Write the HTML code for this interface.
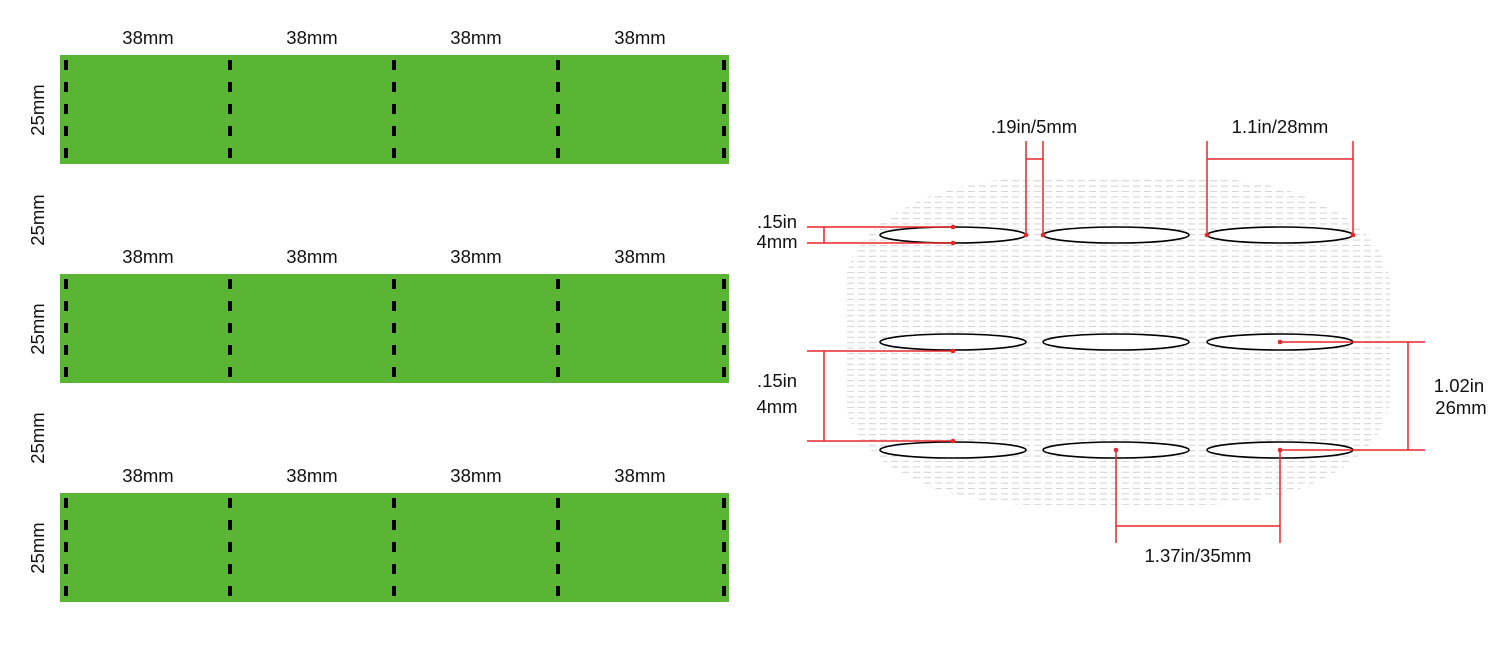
<!DOCTYPE html>
<html><head><meta charset="utf-8"><style>
html,body{margin:0;padding:0;background:#fff;}
svg{display:block;}
text{font-family:"Liberation Sans",sans-serif;font-size:18.5px;fill:#111;}
</style></head><body>
<svg width="1500" height="652" viewBox="0 0 1500 652" xmlns="http://www.w3.org/2000/svg">
<defs>
<pattern id="hatch" x="0" y="0" width="11" height="5.4" patternUnits="userSpaceOnUse">
<rect x="0" y="2" width="7" height="1" fill="#d2d2d2"/>
</pattern>
</defs>
<g>
<rect x="60" y="55" width="669" height="109" fill="#5bb534"/>
<rect x="60" y="274" width="669" height="109" fill="#5bb534"/>
<rect x="60" y="493" width="669" height="109" fill="#5bb534"/>
</g>
<g stroke="#000" stroke-width="4" stroke-dasharray="10 12">
<line x1="66" y1="60" x2="66" y2="160"/><line x1="230" y1="60" x2="230" y2="160"/><line x1="394" y1="60" x2="394" y2="160"/><line x1="558" y1="60" x2="558" y2="160"/><line x1="724" y1="60" x2="724" y2="160"/>
<line x1="66" y1="279" x2="66" y2="379"/><line x1="230" y1="279" x2="230" y2="379"/><line x1="394" y1="279" x2="394" y2="379"/><line x1="558" y1="279" x2="558" y2="379"/><line x1="724" y1="279" x2="724" y2="379"/>
<line x1="66" y1="498" x2="66" y2="598"/><line x1="230" y1="498" x2="230" y2="598"/><line x1="394" y1="498" x2="394" y2="598"/><line x1="558" y1="498" x2="558" y2="598"/><line x1="724" y1="498" x2="724" y2="598"/>
</g>
<g text-anchor="middle">
<text x="148" y="44">38mm</text><text x="312" y="44">38mm</text><text x="476" y="44">38mm</text><text x="640" y="44">38mm</text>
<text x="148" y="263">38mm</text><text x="312" y="263">38mm</text><text x="476" y="263">38mm</text><text x="640" y="263">38mm</text>
<text x="148" y="482">38mm</text><text x="312" y="482">38mm</text><text x="476" y="482">38mm</text><text x="640" y="482">38mm</text>
<text transform="translate(44,110) rotate(-90)">25mm</text>
<text transform="translate(44,220) rotate(-90)">25mm</text>
<text transform="translate(44,329) rotate(-90)">25mm</text>
<text transform="translate(44,438) rotate(-90)">25mm</text>
<text transform="translate(44,548) rotate(-90)">25mm</text>
</g>
<rect x="845" y="178" width="545" height="327" rx="190" ry="110" fill="url(#hatch)"/>
<g fill="#fff" stroke="#000" stroke-width="1.6">
<ellipse cx="953" cy="235" rx="73" ry="8"/><ellipse cx="1116" cy="235" rx="73" ry="8"/><ellipse cx="1280" cy="235" rx="73" ry="8"/>
<ellipse cx="953" cy="342" rx="73" ry="8"/><ellipse cx="1116" cy="342" rx="73" ry="8"/><ellipse cx="1280" cy="342" rx="73" ry="8"/>
<ellipse cx="953" cy="450" rx="73" ry="8"/><ellipse cx="1116" cy="450" rx="73" ry="8"/><ellipse cx="1280" cy="450" rx="73" ry="8"/>
</g>
<g stroke="#e8262b" stroke-width="1.5" fill="none">
<line x1="807" y1="227" x2="953" y2="227"/><line x1="807" y1="243" x2="953" y2="243"/><line x1="824" y1="227" x2="824" y2="243"/>
<line x1="807" y1="351" x2="953" y2="351"/><line x1="807" y1="441" x2="953" y2="441"/><line x1="824" y1="351" x2="824" y2="441"/>
<line x1="1026" y1="141" x2="1026" y2="235"/><line x1="1043" y1="141" x2="1043" y2="235"/><line x1="1026" y1="159" x2="1043" y2="159"/>
<line x1="1207" y1="141" x2="1207" y2="235"/><line x1="1353" y1="141" x2="1353" y2="235"/><line x1="1207" y1="159" x2="1353" y2="159"/>
<line x1="1280" y1="342" x2="1425" y2="342"/><line x1="1280" y1="450" x2="1425" y2="450"/><line x1="1408" y1="342" x2="1408" y2="450"/>
<line x1="1116" y1="450" x2="1116" y2="543"/><line x1="1280" y1="450" x2="1280" y2="543"/><line x1="1116" y1="526" x2="1280" y2="526"/>
</g>
<g fill="#e8262b">
<circle cx="953" cy="227" r="2.3"/><circle cx="953" cy="243" r="2.3"/>
<circle cx="953" cy="351" r="2.3"/><circle cx="953" cy="441" r="2.3"/>
<circle cx="1026" cy="235" r="2.3"/><circle cx="1043" cy="235" r="2.3"/>
<circle cx="1207" cy="235" r="2.3"/><circle cx="1353" cy="235" r="2.3"/>
<circle cx="1280" cy="342" r="2.3"/><circle cx="1280" cy="450" r="2.3"/><circle cx="1116" cy="450" r="2.3"/>
</g>
<g text-anchor="middle">
<text x="1034" y="133">.19in/5mm</text>
<text x="1280" y="133">1.1in/28mm</text>
<text x="777" y="228">.15in</text><text x="777" y="248">4mm</text>
<text x="777" y="387">.15in</text><text x="777" y="413">4mm</text>
<text x="1459" y="392">1.02in</text><text x="1461" y="414">26mm</text>
<text x="1198" y="562">1.37in/35mm</text>
</g>
</svg>
</body></html>
